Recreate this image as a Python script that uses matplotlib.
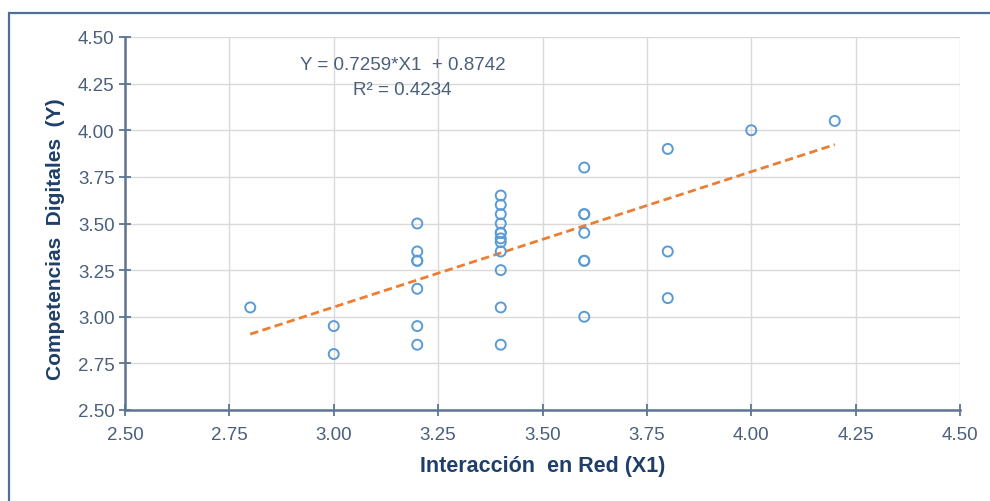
import matplotlib
matplotlib.use("Agg")
import matplotlib.pyplot as plt
import numpy as np
from matplotlib.patches import Rectangle

plt.rcParams['font.family'] = ['Liberation Sans', 'DejaVu Sans']

# Data
x_vals = [2.8,
          3.0, 3.0,
          3.2, 3.2, 3.2, 3.2, 3.2, 3.2, 3.2,
          3.4, 3.4, 3.4, 3.4, 3.4, 3.4, 3.4, 3.4, 3.4, 3.4, 3.4, 3.4,
          3.6, 3.6, 3.6, 3.6, 3.6, 3.6, 3.6,
          3.8, 3.8, 3.8,
          4.0,
          4.2]
y_vals = [3.05,
          2.95, 2.80,
          3.50, 3.35, 3.30, 3.30, 3.15, 2.95, 2.85,
          3.65, 3.60, 3.55, 3.50, 3.45, 3.45, 3.42, 3.40, 3.35, 3.25, 3.05, 2.85,
          3.80, 3.55, 3.55, 3.45, 3.30, 3.30, 3.00,
          3.90, 3.35, 3.10,
          4.00,
          4.05]
slope = 0.7259
intercept = 0.8742
r2 = 0.4234
trend_x = [2.8, 4.2]
ticks = [2.50, 2.75, 3.00, 3.25, 3.50, 3.75, 4.00, 4.25, 4.50]

fig = plt.figure(figsize=(9.9, 5.02), dpi=100)
ax = fig.add_axes([125/990, 1-411/502, 835/990, 373/502])

# outer frame
fig.patches.append(Rectangle((9/990, -0.1), 1.2, 1-14/502+0.1, transform=fig.transFigure,
                             fill=False, edgecolor='#4F6F94', linewidth=1.6, zorder=0))

ax.scatter(x_vals, y_vals, s=52, facecolors='none', edgecolors='#5B9BD5', linewidths=1.4, zorder=3)
tx = np.array(trend_x)
ax.plot(tx, slope*tx + intercept, linestyle=(0, (3, 1.6)), color='#ED7D31', linewidth=2.0, zorder=2)

ax.set_xlim(2.5, 4.5)
ax.set_ylim(2.5, 4.5)
ax.set_xticks(ticks)
ax.set_yticks(ticks)
ax.set_xticklabels([f"{t:.2f}" for t in ticks])
ax.set_yticklabels([f"{t:.2f}" for t in ticks])
ax.grid(True, color='#D9D9D9', linewidth=1.0, zorder=0)
ax.set_axisbelow(True)

for s in ['top', 'right']:
    ax.spines[s].set_visible(False)
for s in ['left', 'bottom']:
    ax.spines[s].set_color('#5C7591')
    ax.spines[s].set_linewidth(1.8)
ax.tick_params(axis='both', direction='inout', length=9, width=1.3, color='#5C7591',
               labelsize=13.5, labelcolor='#4A5F7C')
ax.tick_params(axis='x', pad=7)
ax.tick_params(axis='y', pad=3)

ax.set_xlabel('Interacción  en Red (X1)', fontsize=15.5, fontweight='bold', color='#1F3F6A', labelpad=9)
ax.set_ylabel('Competencias  Digitales  (Y)', fontsize=15, fontweight='bold', color='#1F3F6A')
ax.yaxis.set_label_coords(-0.072, 0.46)

ax.text(3.165, 4.355, f'Y = {slope}*X1  + {intercept}', ha='center', va='center',
        fontsize=13.5, color='#4A5F7C')
ax.text(3.165, 4.22, f'R² = {r2}', ha='center', va='center', fontsize=13.5, color='#4A5F7C')

fig.savefig('out.png', dpi=100)
